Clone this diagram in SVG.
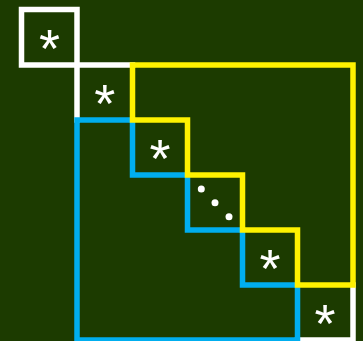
<svg xmlns="http://www.w3.org/2000/svg" width="363" height="341" viewBox="0 0 363 341">
<style>
.ol{fill:none;stroke-width:5.5;stroke-linejoin:miter;stroke-linecap:square}
.w{stroke:#ffffff}
.y{stroke:#fff200}
.b{stroke:#00aeef}
.ast{font-family:"Liberation Sans",Arial,sans-serif;font-size:54px;fill:#ffffff;text-anchor:middle}
.dot{fill:#ffffff}
</style>
<rect x="0" y="0" width="363" height="341" fill="#1c3b00"/>
<g id="outlines">
<path class="ol w" d="M21.5,9.5 H77 V65 H21.5 Z M77,65 H132.5 M77,65 V120 M353,285 V340 H297.5"/>
<path class="ol b" d="M77,120 H132.5 V175 H187.5 V230 H242.5 V285 H297.5 V340 H77 Z"/>
<path class="ol y" d="M132.5,65 H353 V285 H297.5 V230 H242.5 V175 H187.5 V120 H132.5 Z"/>
</g>
<g id="cell1"><text class="ast" x="49.5" y="67">*</text></g>
<g id="cell2"><text class="ast" x="104.8" y="122">*</text></g>
<g id="cell3"><text class="ast" x="160" y="177">*</text></g>
<g id="cell4"><circle class="dot" cx="201.3" cy="189" r="3.5"/><circle class="dot" cx="215" cy="202.7" r="3.5"/><circle class="dot" cx="229" cy="216.7" r="3.5"/></g>
<g id="cell5"><text class="ast" x="270" y="287">*</text></g>
<g id="cell6"><text class="ast" x="325" y="342">*</text></g>
</svg>
